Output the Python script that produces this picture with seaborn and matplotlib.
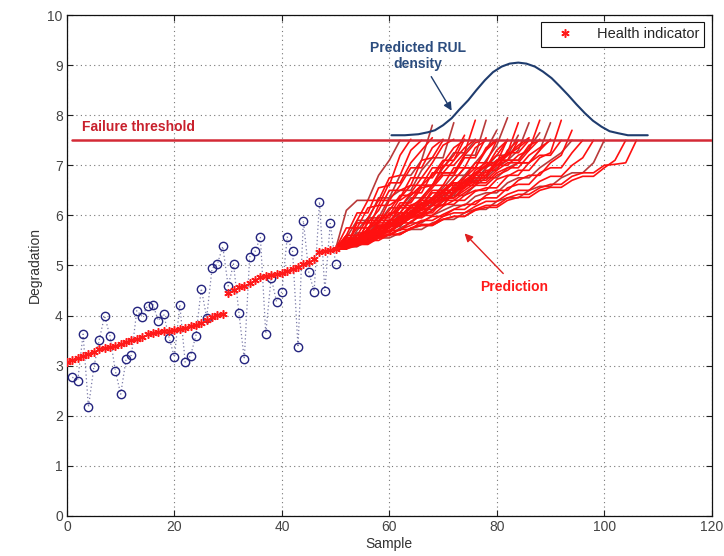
import numpy as np
import pandas as pd
import matplotlib
matplotlib.use("Agg")
import matplotlib.pyplot as plt
from matplotlib.lines import Line2D
import seaborn as sns

# ---- data -------------------------------------------------------------
# noisy degradation measurements (sample 1..50)
meas_x = list(range(1, 51))
meas_y = [2.77, 2.70, 3.63, 2.17, 2.97, 3.51, 4.00, 3.59, 2.90, 2.43,
          3.13, 3.21, 4.10, 3.98, 4.20, 4.22, 3.90, 4.03, 3.56, 3.17,
          4.22, 3.07, 3.20, 3.60, 4.54, 3.96, 4.94, 5.03, 5.38, 4.59,
          5.03, 4.06, 3.13, 5.17, 5.28, 5.56, 3.64, 4.76, 4.28, 4.48,
          5.57, 5.28, 3.37, 5.89, 4.87, 4.48, 6.27, 4.50, 5.84, 5.03]

# filtered health indicator (sample 0..50)
hi_x = list(range(0, 51))
hi_y = [3.08, 3.12, 3.16, 3.20, 3.23, 3.27, 3.34, 3.36, 3.37, 3.40,
        3.44, 3.48, 3.52, 3.54, 3.58, 3.63, 3.66, 3.68, 3.69, 3.70,
        3.72, 3.74, 3.76, 3.80, 3.82, 3.86, 3.91, 3.97, 4.01, 4.04,
        4.46, 4.52, 4.57, 4.60, 4.65, 4.71, 4.77, 4.80, 4.81, 4.84,
        4.86, 4.89, 4.93, 4.97, 5.02, 5.07, 5.13, 5.26, 5.28, 5.30,
        5.33]

failure_threshold = 7.5

# predicted degradation paths, one value every 2 samples from sample 50
pred_start = 50
pred_step = 2
pred_paths = [
    [5.33, 6.1, 6.3, 6.3, 6.8, 7.1, 7.5],
    [5.33, 5.6, 6.05, 6.05, 6.55, 6.6, 7.2, 7.52],
    [5.33, 5.33, 5.9, 6.3, 6.3, 6.75, 6.8, 7.3, 7.5],
    [5.33, 5.75, 5.75, 6.15, 6.2, 6.65, 6.65, 7.05, 7.3, 7.55],
    [5.33, 5.55, 5.9, 5.9, 6.35, 6.35, 6.8, 6.8, 7.1, 7.8],
    [5.33, 5.35, 5.85, 5.85, 6.1, 6.5, 6.5, 6.6, 7.1, 7.15, 7.5],
    [5.33, 5.6, 5.6, 5.95, 6.3, 6.3, 6.6, 6.95, 6.95, 7.35, 7.52],
    [5.33, 5.55, 5.55, 5.7, 6.2, 6.2, 6.35, 6.75, 6.75, 7.05, 7.4, 7.52],
    [5.33, 5.35, 5.7, 5.95, 5.95, 6.35, 6.5, 6.5, 6.9, 7.15, 7.15, 7.85],
    [5.33, 5.5, 5.5, 5.85, 5.85, 6.3, 6.3, 6.45, 6.75, 6.75, 7.05, 7.35, 7.5],
    [5.33, 5.45, 5.75, 5.75, 5.85, 6.1, 6.4, 6.4, 6.6, 6.95, 6.95, 7.2, 7.6],
    [5.33, 5.4, 5.4, 5.9, 5.9, 6.0, 6.35, 6.6, 6.6, 6.8, 7.1, 7.1, 7.52],
    [5.33, 5.4, 5.65, 5.65, 5.85, 6.15, 6.15, 6.4, 6.6, 6.6, 6.95, 7.25, 7.25, 7.5],
    [5.33, 5.45, 5.45, 5.75, 5.95, 5.95, 6.25, 6.25, 6.55, 6.6, 7.0, 7.0, 7.25, 7.9],
    [5.33, 5.6, 5.6, 5.7, 6.0, 6.0, 6.15, 6.45, 6.45, 6.85, 6.85, 7.1, 7.35, 7.52],
    [5.33, 5.38, 5.6, 5.6, 5.7, 6.05, 6.05, 6.3, 6.6, 6.6, 6.85, 6.85, 7.2, 7.45, 7.52],
    [5.33, 5.5, 5.5, 5.62, 5.9, 5.9, 6.05, 6.35, 6.35, 6.6, 6.85, 6.85, 7.2, 7.2, 7.9],
    [5.33, 5.33, 5.5, 5.7, 5.7, 5.85, 6.15, 6.15, 6.35, 6.6, 6.6, 6.95, 6.95, 7.35, 7.5],
    [5.33, 5.55, 5.55, 5.6, 5.85, 5.85, 6.2, 6.2, 6.3, 6.55, 6.8, 6.8, 7.15, 7.15, 7.55],
    [5.33, 5.45, 5.45, 5.6, 5.8, 5.8, 5.98, 6.2, 6.2, 6.5, 6.5, 6.7, 6.95, 6.95, 7.3, 7.5],
    [5.33, 5.33, 5.55, 5.55, 5.7, 5.9, 5.9, 6.05, 6.35, 6.35, 6.55, 6.8, 6.8, 7.05, 7.3, 7.7],
    [5.33, 5.42, 5.42, 5.62, 5.62, 5.78, 6.0, 6.0, 6.2, 6.45, 6.45, 6.7, 6.95, 6.95, 7.35, 7.52],
    [5.33, 5.5, 5.5, 5.55, 5.8, 5.8, 5.9, 6.2, 6.2, 6.35, 6.6, 6.6, 6.75, 7.05, 7.05, 7.5],
    [5.33, 5.36, 5.5, 5.5, 5.7, 5.85, 5.85, 6.1, 6.1, 6.3, 6.5, 6.5, 6.75, 6.95, 6.95, 7.3, 7.5],
    [5.33, 5.45, 5.45, 5.6, 5.6, 5.85, 5.85, 6.1, 6.15, 6.35, 6.35, 6.55, 6.8, 6.8, 7.1, 7.4, 7.95],
    [5.33, 5.33, 5.4, 5.58, 5.58, 5.75, 5.95, 5.95, 6.12, 6.3, 6.3, 6.6, 6.6, 6.9, 7.05, 7.05, 7.52],
    [5.33, 5.5, 5.5, 5.58, 5.7, 5.9, 5.9, 6.0, 6.25, 6.25, 6.4, 6.55, 6.55, 6.8, 7.0, 7.2, 7.5],
    [5.33, 5.4, 5.4, 5.5, 5.65, 5.65, 5.82, 5.98, 5.98, 6.2, 6.2, 6.5, 6.55, 6.8, 6.8, 7.1, 7.1, 7.5],
    [5.33, 5.36, 5.5, 5.5, 5.6, 5.78, 5.78, 6.0, 6.0, 6.25, 6.4, 6.4, 6.68, 6.68, 6.95, 7.2, 7.2, 7.6],
    [5.33, 5.34, 5.42, 5.55, 5.55, 5.7, 5.85, 5.85, 6.02, 6.2, 6.2, 6.45, 6.6, 6.6, 6.9, 6.9, 7.3, 7.5],
    [5.33, 5.45, 5.45, 5.5, 5.7, 5.7, 5.8, 6.0, 6.0, 6.1, 6.35, 6.35, 6.6, 6.75, 6.75, 7.1, 7.25, 7.85],
    [5.33, 5.5, 5.5, 5.7, 5.9, 5.9, 6.05, 6.05, 6.3, 6.3, 6.5, 6.65, 6.65, 6.85, 7.0, 7.0, 7.2, 7.35, 7.52],
    [5.33, 5.42, 5.6, 5.6, 5.78, 5.78, 6.05, 6.05, 6.25, 6.3, 6.5, 6.5, 6.7, 6.7, 6.95, 7.1, 7.1, 7.3, 7.85],
    [5.33, 5.38, 5.38, 5.68, 5.68, 5.9, 5.95, 6.15, 6.15, 6.35, 6.45, 6.45, 6.7, 6.85, 6.85, 7.05, 7.25, 7.25, 7.5],
    [5.33, 5.5, 5.5, 5.6, 5.8, 5.8, 5.95, 6.15, 6.15, 6.3, 6.45, 6.65, 6.65, 6.8, 7.0, 7.0, 7.2, 7.4, 7.55],
    [5.33, 5.45, 5.45, 5.65, 5.8, 5.8, 6.0, 6.0, 6.25, 6.25, 6.4, 6.55, 6.55, 6.8, 6.8, 7.0, 7.1, 7.1, 7.4, 7.5],
    [5.33, 5.4, 5.55, 5.55, 5.7, 5.9, 5.9, 6.05, 6.2, 6.2, 6.45, 6.45, 6.6, 6.75, 6.75, 6.95, 7.1, 7.1, 7.35, 7.65],
    [5.33, 5.48, 5.48, 5.6, 5.75, 5.75, 5.98, 5.98, 6.15, 6.3, 6.3, 6.45, 6.65, 6.65, 6.8, 7.0, 7.0, 7.2, 7.3, 7.52],
    [5.33, 5.36, 5.5, 5.62, 5.62, 5.82, 5.82, 6.02, 6.1, 6.2, 6.35, 6.35, 6.55, 6.7, 6.7, 6.9, 7.05, 7.05, 7.3, 7.9],
    [5.33, 5.42, 5.42, 5.6, 5.75, 5.75, 5.9, 6.05, 6.05, 6.2, 6.35, 6.35, 6.5, 6.65, 6.65, 6.85, 6.95, 6.95, 7.2, 7.35, 7.5],
    [5.33, 5.45, 5.45, 5.58, 5.7, 5.85, 5.85, 5.98, 6.12, 6.12, 6.28, 6.4, 6.4, 6.6, 6.75, 6.75, 6.95, 7.05, 7.05, 7.3, 7.85],
    [5.33, 5.38, 5.5, 5.5, 5.65, 5.8, 5.8, 5.95, 6.05, 6.05, 6.3, 6.3, 6.45, 6.6, 6.6, 6.8, 6.9, 7.05, 7.05, 7.3, 7.52],
    [5.33, 5.4, 5.4, 5.55, 5.68, 5.68, 5.82, 5.95, 5.95, 6.1, 6.22, 6.22, 6.4, 6.5, 6.5, 6.72, 6.8, 6.8, 7.05, 7.2, 7.2, 7.5],
    [5.33, 5.36, 5.45, 5.45, 5.6, 5.7, 5.7, 5.88, 6.0, 6.0, 6.18, 6.3, 6.3, 6.48, 6.55, 6.55, 6.78, 6.9, 6.9, 7.15, 7.25, 7.9],
    [5.33, 5.38, 5.38, 5.52, 5.6, 5.6, 5.75, 5.85, 5.85, 6.0, 6.1, 6.2, 6.2, 6.38, 6.45, 6.45, 6.65, 6.75, 6.75, 6.95, 7.1, 7.25, 7.5],
    [5.33, 5.35, 5.42, 5.5, 5.5, 5.62, 5.72, 5.72, 5.88, 5.98, 5.98, 6.12, 6.22, 6.22, 6.4, 6.5, 6.5, 6.7, 6.8, 6.8, 7.05, 7.2, 7.7],
    [5.33, 5.38, 5.44, 5.44, 5.6, 5.6, 5.72, 5.8, 5.9, 5.9, 6.02, 6.12, 6.12, 6.28, 6.35, 6.35, 6.55, 6.62, 6.62, 6.85, 6.95, 6.95, 7.25, 7.5],
    [5.33, 5.36, 5.42, 5.42, 5.55, 5.62, 5.62, 5.75, 5.82, 5.82, 5.98, 6.05, 6.05, 6.18, 6.28, 6.28, 6.42, 6.5, 6.5, 6.68, 6.78, 6.78, 7.0, 7.15, 7.5],
    [5.33, 5.38, 5.38, 5.48, 5.55, 5.55, 5.65, 5.72, 5.72, 5.85, 5.92, 5.92, 6.05, 6.12, 6.12, 6.28, 6.35, 6.35, 6.5, 6.58, 6.58, 6.75, 6.85, 6.85, 7.05, 7.5],
    [5.33, 5.38, 5.44, 5.44, 5.55, 5.62, 5.62, 5.74, 5.8, 5.8, 5.92, 5.98, 5.98, 6.1, 6.16, 6.16, 6.3, 6.36, 6.36, 6.5, 6.56, 6.56, 6.7, 6.78, 6.78, 6.95, 7.1, 7.5],
    [5.33, 5.4, 5.48, 5.48, 5.58, 5.62, 5.62, 5.74, 5.8, 5.8, 5.92, 5.98, 5.98, 6.12, 6.2, 6.2, 6.35, 6.42, 6.42, 6.55, 6.62, 6.62, 6.78, 6.85, 6.85, 7.0, 7.02, 7.05, 7.5],
]

# predicted RUL density curve (drawn above the threshold)
rul_x = [60.4, 62.9, 65.4, 67.2, 68.5, 70.0, 71.6, 73.1, 74.7, 76.2,
         77.8, 79.3, 80.9, 82.4, 84.0, 85.5, 87.1, 88.6, 90.2, 91.7,
         93.3, 94.8, 96.4, 97.9, 99.5, 101.0, 102.6, 104.4, 106.3, 108.1]
rul_y = [7.60, 7.60, 7.62, 7.66, 7.70, 7.80, 7.94, 8.12, 8.30, 8.50,
         8.70, 8.86, 8.97, 9.03, 9.05, 9.03, 8.97, 8.87, 8.74, 8.58,
         8.40, 8.22, 8.04, 7.89, 7.77, 7.68, 7.64, 7.60, 7.60, 7.60]

x_ticks = [0, 20, 40, 60, 80, 100, 120]
y_ticks = list(range(0, 11))

# ---- long-form tables ---------------------------------------------------
rows = []
for k, path in enumerate(pred_paths):
    for i, v in enumerate(path):
        rows.append({"path": k, "Sample": pred_start + pred_step * i,
                     "Degradation": v, "tone": "a" if k % 4 else "b"})
pred_df = pd.DataFrame(rows)
meas_df = pd.DataFrame({"Sample": meas_x, "Degradation": meas_y})
hi_df = pd.DataFrame({"Sample": hi_x, "Degradation": hi_y})
rul_df = pd.DataFrame({"Sample": rul_x, "Degradation": rul_y})

# ---- figure -------------------------------------------------------------
sns.set_theme(style="white")
plt.rcParams["font.family"] = ["Liberation Sans", "DejaVu Sans"]

fig = plt.figure(figsize=(7.24, 5.56), dpi=100)
ax = fig.add_axes([0.0925, 0.072, 0.8905, 0.901])

red = "#ff1a1a"
navy = "#24247f"

# measurements joined by a dotted line, then the open circles
sns.lineplot(data=meas_df, x="Sample", y="Degradation", ax=ax, sort=False,
             estimator=None, color="#7a7aa8", linestyle=(0, (1, 2)),
             linewidth=0.9, zorder=2)
ax.plot(meas_x, meas_y, linestyle="none", marker="o", markersize=6,
        markerfacecolor="none", markeredgecolor=navy, markeredgewidth=1.0,
        zorder=3)

# predicted paths
sns.lineplot(data=pred_df, x="Sample", y="Degradation", units="path",
             estimator=None, hue="tone", palette={"a": "#ff1010", "b": "#b83a3a"},
             linewidth=1.2, ax=ax, legend=False, sort=False, zorder=4)

# health indicator
sns.lineplot(data=hi_df, x="Sample", y="Degradation", ax=ax, estimator=None,
             linestyle="none", marker=(6, 2, 0), markersize=6,
             markeredgewidth=1.1, color=red, markeredgecolor=red, zorder=5)

# failure threshold
ax.axhline(failure_threshold, xmin=0.008, xmax=1.0, color="#d42a36",
           linewidth=1.8, zorder=6)

# RUL density
sns.lineplot(data=rul_df, x="Sample", y="Degradation", ax=ax, estimator=None,
             color="#1f3c6e", linewidth=1.5, sort=False, zorder=6)

# annotations
ax.text(2.8, 7.76, "Failure threshold", color="#c8202c", fontsize=10,
        fontweight="bold", va="center", ha="left", zorder=7)
ax.text(65.3, 9.18, "Predicted RUL\ndensity", color="#2b4c7e", fontsize=10,
        fontweight="bold", va="center", ha="center", linespacing=1.25, zorder=7)
ax.annotate("", xy=(71.6, 8.09), xytext=(67.8, 8.77),
            arrowprops=dict(arrowstyle="-|>", color="#1f3c6e", lw=1.0,
                            mutation_scale=12, shrinkA=0, shrinkB=0), zorder=7)
ax.text(83.2, 4.58, "Prediction", color="#ff1a1a", fontsize=10,
        fontweight="bold", va="center", ha="center", zorder=7)
ax.annotate("", xy=(74.0, 5.64), xytext=(81.2, 4.84),
            arrowprops=dict(arrowstyle="-|>", color="#e02020", lw=1.0,
                            mutation_scale=12, shrinkA=0, shrinkB=0), zorder=7)

# axes styling
ax.set_xlim(0, 120)
ax.set_ylim(0, 10)
ax.set_xticks(x_ticks)
ax.set_yticks(y_ticks)
ax.set_xlabel("Sample", fontsize=10, color="#333333", labelpad=2)
ax.set_ylabel("Degradation", fontsize=10, color="#333333", labelpad=4)
ax.tick_params(direction="in", length=4, width=0.8, colors="#222222",
               labelcolor="#444444", labelsize=10, top=True, right=True,
               bottom=True, left=True, pad=3)
ax.grid(True, linestyle=(0, (1, 3)), color="#777777", linewidth=0.8)
ax.set_axisbelow(True)
for s in ax.spines.values():
    s.set_visible(True)
    s.set_color("#111111")
    s.set_linewidth(0.9)

handle = Line2D([], [], linestyle="none", marker=(6, 2, 0), markersize=6,
                markeredgewidth=1.1, color=red)
leg = ax.legend([handle], ["Health indicator"], loc="upper right",
                fontsize=10.5, frameon=True, fancybox=False, framealpha=1,
                edgecolor="#111111", borderaxespad=0.5, handletextpad=0.9,
                handlelength=2.6, borderpad=0.35)
leg.get_frame().set_linewidth(0.8)
leg.set_zorder(10)

fig.savefig("out.png", dpi=100, facecolor="white")
